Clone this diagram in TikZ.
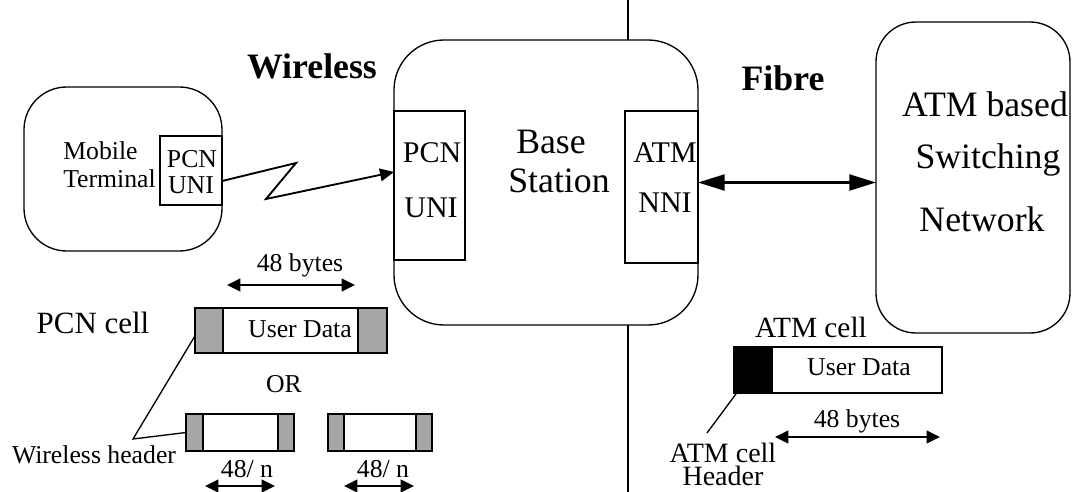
\documentclass[tikz,border=0pt]{standalone}
\usepackage{fontspec}
\setmainfont{Liberation Serif}
\usetikzlibrary{arrows.meta,calc}
\newcommand\txtsize[1]{\fontsize{#1}{#1}\selectfont}

\begin{document}
\begin{tikzpicture}[x=0.75pt,y=-0.75pt,
  box/.style={draw, line width=1pt, outer sep=0, inner sep=0},
  blob/.style={box, rounded corners=#1},
  shade/.style={box, fill=black!35},
  lbl/.style={inner sep=0, anchor=base},
  bigbold/.style={font=\txtsize{26.8pt}\bfseries},
  bigtxt/.style={font=\txtsize{26.8pt}},
  midtxt/.style={font=\txtsize{22.5pt}},
  smltxt/.style={font=\txtsize{19.3pt}},
  celltxt/.style={font=\txtsize{22pt}},
  leader/.style={line width=1pt},
  arr/.style={-{Triangle[length=10.5pt,width=9.5pt]}, line width=1.4pt},
  darr/.style={{Triangle[length=10pt,width=9.5pt]}-{Triangle[length=10pt,width=9.5pt]}, line width=1.5pt},
  fibrearr/.style={{Triangle[length=20pt,width=12pt]}-{Triangle[length=20pt,width=12pt]}, line width=1.6pt}
]
\useasboundingbox[fill=white] (0,0) rectangle (1076,492);

% --- stations ---
\node[blob=37.5pt, minimum width=228pt, minimum height=213.75pt] (bs) at (546,182.5) {};
\node[box, minimum width=53.25pt, minimum height=111.75pt] (bsp) at (429.5,185.5) {};
\node[box, minimum width=54.75pt, minimum height=114pt] (bsa) at (661.5,187) {};
\node[blob=30pt, minimum width=145.5pt, minimum height=233.25pt] (sw) at (973,177.5) {};
\node[blob=32pt, minimum width=148.5pt, minimum height=123pt] (mt) at (123,169) {};
\node[box, minimum width=46.5pt, minimum height=51.75pt] (mtp) at (191,170.5) {};

% --- labels in the stations ---
\node[lbl, bigbold] (wl) at (312,79) {Wireless};
\node[lbl, bigbold] (fb) at (783,91) {Fibre};
\node[lbl, bigtxt] (bs1) at (551,153) {Base};
\node[lbl, bigtxt] (bs2) at (559,193) {Station};
\node[lbl, midtxt] (bsp1) at (432,163) {PCN};
\node[lbl, midtxt] (bsp2) at (431,217) {UNI};
\node[lbl, midtxt] (bsa1) at (665,163) {ATM};
\node[lbl, midtxt] (bsa2) at (665,213) {NNI};
\node[lbl, bigtxt] (sw1) at (985,117) {ATM based};
\node[lbl, bigtxt] (sw2) at (988,169) {Switching};
\node[lbl, bigtxt] (sw3) at (982,232) {Network};
\node[lbl, smltxt, anchor=base west] (mt1) at (63,160) {Mobile};
\node[lbl, smltxt, anchor=base west] (mt2) at (63,187) {Terminal};
\node[lbl, smltxt] (mtp1) at (192,167) {PCN};
\node[lbl, smltxt] (mtp2) at (191,194) {UNI};

% --- links ---
\draw[arr] ([yshift=-7.9pt]mtp.east) -- (296,163) -- (266,199) -- ([yshift=7.9pt]bs.west);
\draw[fibrearr] (bs.east) -- (bs.east -| sw.west);

% --- divider ---
\coordinate (dt) at (628,0);
\coordinate (db) at (628,492);
\draw[leader] (dt) -- (dt |- bs.north);
\draw[leader] (bs.south -| db) -- (db);

% --- PCN cells ---
\node[box, minimum width=144pt, minimum height=33.75pt] (pc) at (291,330.5) {};
\node[shade, minimum width=21pt, minimum height=33.75pt] (pcl) at (209,330.5) {};
\node[shade, minimum width=21.75pt, minimum height=33.75pt] (pcr) at (372.5,330.5) {};
\node[box, minimum width=81pt, minimum height=27.75pt] (s1) at (240,432.5) {};
\node[shade, minimum width=12.75pt, minimum height=27.75pt] (s1l) at (194.5,432.5) {};
\node[shade, minimum width=12pt, minimum height=27.75pt] (s1r) at (286,432.5) {};
\node[box, minimum width=78pt, minimum height=27.75pt] (s2) at (380,432.5) {};
\node[shade, minimum width=12pt, minimum height=27.75pt] (s2l) at (336,432.5) {};
\node[shade, minimum width=12pt, minimum height=27.75pt] (s2r) at (424,432.5) {};

\node[lbl, smltxt] (b48) at (300,272) {48 bytes};
\node[lbl, font=\txtsize{23.2pt}] (pcnc) at (93,333) {PCN cell};
\node[lbl, smltxt] (ud1) at (300,337) {User Data};
\node[lbl, smltxt] (orl) at (284,392) {OR};
\node[lbl, smltxt] (wh) at (94,463) {Wireless header};
\node[lbl, smltxt] (n1) at (247,477) {48/ n};
\node[lbl, smltxt] (n2) at (383,477) {48/ n};

\coordinate (m1a) at (227,285); \coordinate (m1b) at (355,285);
\coordinate (m2a) at (205,486); \coordinate (m2b) at (275,486);
\coordinate (m3a) at (344,486); \coordinate (m3b) at (414,486);
\draw[darr] (m1a) -- (m1b);
\draw[darr] (m2a) -- (m2b);
\draw[darr] (m3a) -- (m3b);

\coordinate (whp) at (133,439);
\draw[leader] ([yshift=-4pt]pc.west) -- (whp) -- (s1.west);

% --- ATM cell ---
\node[box, minimum width=156pt, minimum height=34.5pt] (ac) at (838,370) {};
\node[box, fill=black, minimum width=28.5pt, minimum height=34.5pt] (ach) at (753,370) {};
\node[lbl, celltxt] (act) at (811,337) {ATM cell};
\node[lbl, smltxt] (ud2) at (859,375) {User Data};
\node[lbl, smltxt] (b48b) at (857,427) {48 bytes};
\node[inner sep=0, align=center, font=\fontsize{21pt}{17.25pt}\selectfont] (ah) at (723,464) {ATM cell\\Header};
\coordinate (m4a) at (775,437); \coordinate (m4b) at (940,437);
\draw[darr] (m4a) -- (m4b);
\coordinate (ahp) at (707,433);
\draw[leader] ([xshift=2pt]ach.south west) -- (ahp);
\end{tikzpicture}
\end{document}
